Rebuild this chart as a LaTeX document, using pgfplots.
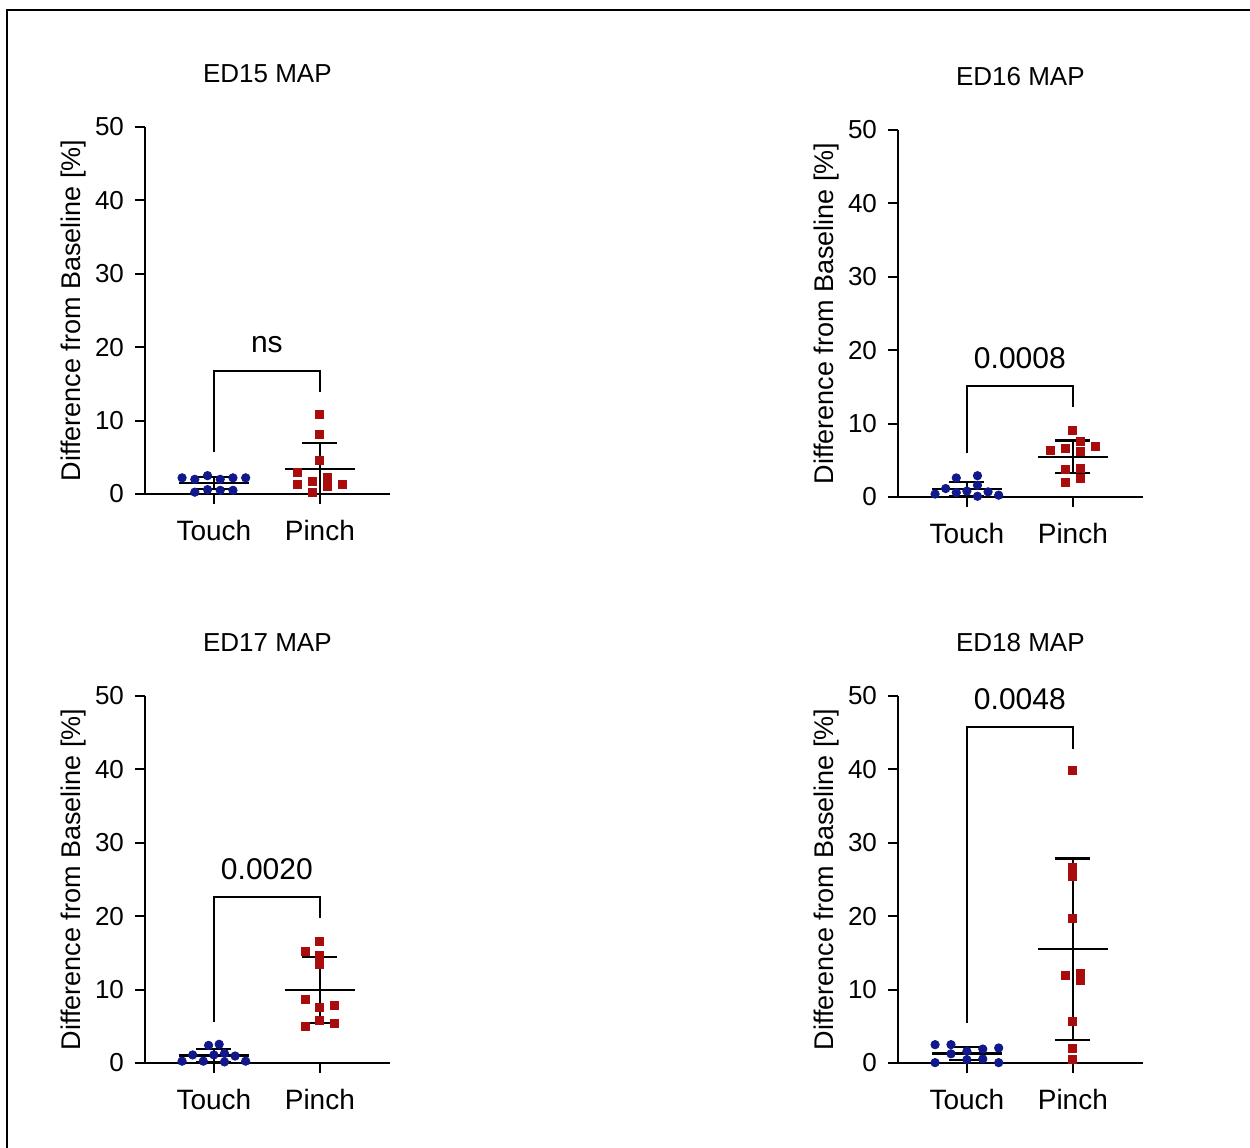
\documentclass[border=0pt]{standalone}
\usepackage{fontspec}
\setmainfont{Liberation Sans}
\usepackage{pgfplots}
\pgfplotsset{compat=1.18}

\definecolor{touchblue}{RGB}{16,24,140}
\definecolor{pinchred}{RGB}{168,12,12}

\pgfplotsset{
  mapaxis/.style={
    scale only axis, width=122.4pt, height=183.5pt,
    xmin=0.35, xmax=2.66, ymin=0, ymax=50,
    axis lines=left, axis line style={-, line width=1pt},
    xtick={1,2}, xticklabels={Touch,Pinch},
    ytick={0,10,20,30,40,50},
    tick align=outside, major tick length=5pt,
    every tick/.style={black, line width=1pt},
    tick label style={font=\fontsize{13}{15}\selectfont},
    /pgf/number format/assume math mode=true,
    xticklabel style={font=\fontsize{14}{16}\selectfont, yshift=-4.5pt},
    yticklabel style={xshift=-2pt},
    ylabel={Difference from Baseline [\%]},
    ylabel style={font=\fontsize{13.5}{15}\selectfont, at={(axis description cs:-0.292,0.5)}, anchor=center},
    title style={font=\fontsize{13}{15}\selectfont, at={(axis description cs:0.5,1)}, anchor=center, yshift=20.5pt},
    clip=false,
  },
  touchpts/.style={only marks, mark=*, mark size=2.1pt, color=touchblue},
  pinchpts/.style={only marks, mark=square*, mark size=2.0pt, color=pinchred},
  meansd/.style={black, line width=1.1pt, mark=-, mark size=17.5pt, mark options={line width=1.1pt},
    error bars/.cd, y dir=both, y explicit,
    error mark=|,
    error bar style={line width=1.1pt},
    error mark options={black, mark size=8.75pt, line width=1.1pt}},
  bracket/.style={black, line width=1pt, mark=none},
}
\newcommand{\pval}[1]{{\fontsize{15}{17}\selectfont #1}}

\begin{document}
\begin{tikzpicture}
\useasboundingbox (0,0) rectangle (625pt,574pt);
\draw[line width=1pt] (3.5pt,0pt) -- (3.5pt,569pt) -- (625pt,569pt);

% ED15
\begin{axis}[mapaxis, at={(72.5pt,327pt)}, anchor=south west, title={ED15 MAP}]
  \addplot[meansd] coordinates {(1,1.5) +- (0,0.85)};
  \addplot[meansd] coordinates {(2,3.45) +- (0,3.45)};
  \addplot[touchpts] coordinates {(0.70,2.2)(0.82,2.0)(0.94,2.5)(1.06,2.0)(1.18,2.2)(1.30,2.2)(0.82,0.25)(0.94,0.6)(1.06,0.5)(1.18,0.5)};
  \addplot[pinchpts] coordinates {(2,10.9)(2,8.1)(2,4.6)(1.79,2.9)(1.79,1.3)(1.93,1.75)(2.07,2.3)(2.07,1.07)(2.21,1.3)(1.93,0.25)};
  \addplot[bracket] coordinates {(1,5.7)(1,16.7)(2,16.7)(2,13.9)};
  \node at (axis cs:1.5,20.4) {\pval{ns}};
\end{axis}

% ED16
\begin{axis}[mapaxis, at={(449pt,325.5pt)}, anchor=south west, title={ED16 MAP}]
  \addplot[meansd] coordinates {(1,1.11) +- (0,0.97)};
  \addplot[meansd] coordinates {(2,5.49) +- (0,2.2)};
  \addplot[touchpts] coordinates {(0.70,0.4)(0.80,1.15)(0.90,2.6)(0.90,0.6)(1.00,0.8)(1.10,2.9)(1.10,1.6)(1.10,0.1)(1.20,0.7)(1.30,0.25)};
  \addplot[pinchpts] coordinates {(2,9.1)(2.07,7.6)(2.21,6.9)(1.79,6.35)(1.93,6.6)(2.07,6.15)(1.93,3.7)(2.07,3.9)(2.07,2.6)(1.93,2.0)};
  \addplot[bracket] coordinates {(1,6.0)(1,15.1)(2,15.1)(2,12.2)};
  \node at (axis cs:1.5,18.9) {\pval{0.0008}};
\end{axis}

% ED17
\begin{axis}[mapaxis, at={(72.5pt,42.5pt)}, anchor=south west, title={ED17 MAP}]
  \addplot[meansd] coordinates {(1,1.03) +- (0,0.87)};
  \addplot[meansd] coordinates {(2,9.99) +- (0,4.49)};
  \addplot[touchpts] coordinates {(0.70,0.25)(0.80,1.1)(0.90,0.25)(0.95,2.4)(1.05,2.55)(1.00,1.1)(1.10,1.3)(1.10,0.15)(1.20,0.95)(1.30,0.25)};
  \addplot[pinchpts] coordinates {(2,16.6)(1.86,15.2)(2,14.6)(2,13.45)(1.86,8.65)(2,7.55)(2.14,7.8)(2,5.75)(2.14,5.35)(1.86,4.95)};
  \addplot[bracket] coordinates {(1,5.6)(1,22.6)(2,22.6)(2,19.7)};
  \node at (axis cs:1.5,26.4) {\pval{0.0020}};
\end{axis}

% ED18
\begin{axis}[mapaxis, at={(449pt,42.5pt)}, anchor=south west, title={ED18 MAP}]
  \addplot[meansd] coordinates {(1,1.29) +- (0,0.9)};
  \addplot[meansd] coordinates {(2,15.5) +- (0,12.35)};
  \addplot[touchpts] coordinates {(0.70,2.5)(0.85,2.5)(0.85,1.25)(1.00,1.6)(1.00,0.45)(1.15,1.9)(1.15,0.55)(1.30,2.05)(1.30,0.05)(0.70,0.05)};
  \addplot[pinchpts] coordinates {(2,39.8)(2,26.7)(2,25.4)(2,19.7)(1.93,11.9)(2.07,12.2)(2.07,11.2)(2,5.65)(2,2.05)(2,0.45)};
  \addplot[bracket] coordinates {(1,5.5)(1,45.8)(2,45.8)(2,42.8)};
  \node at (axis cs:1.5,49.6) {\pval{0.0048}};
\end{axis}
\end{tikzpicture}
\end{document}
